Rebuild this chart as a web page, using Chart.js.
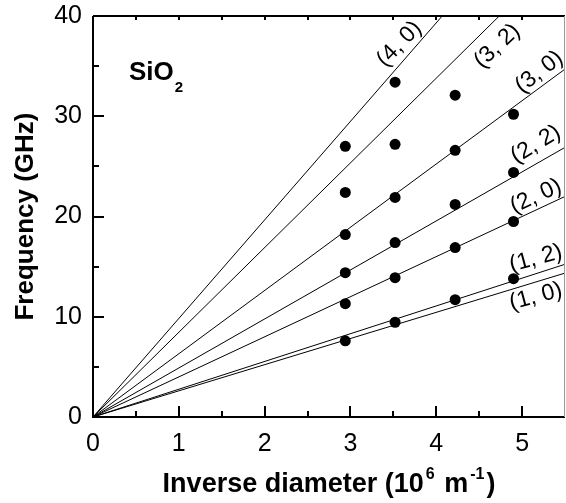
<!DOCTYPE html>
<html>
<head>
<meta charset="utf-8">
<title>SiO2 frequency vs inverse diameter</title>
<script src="https://cdn.jsdelivr.net/npm/chart.js"></script>
<style>
  html, body { margin: 0; padding: 0; background: #fff; }
  canvas { display: block; }
</style>
</head>
<body>
<canvas id="modesChart" width="566" height="503"></canvas>
<script>
// measured points, one array per sample (inverse diameter, 10^6 m^-1)
const inverseDiameters = [2.94, 3.52, 4.22, 4.90];
const freqsD1 = [7.6, 11.3, 14.4, 18.2, 22.4, 27.0];
const freqsD2 = [9.45, 13.9, 17.4, 21.9, 27.2, 33.4];
const freqsD3 = [11.7, 16.9, 21.2, 26.6, 32.1];
const freqsD4 = [13.8, 19.5, 24.4, 30.2];

// fitted lines through origin, slope in GHz per 10^6 m^-1
const modeNames = ['(1, 0)', '(1, 2)', '(2, 0)', '(2, 2)', '(3, 0)', '(3, 2)', '(4, 0)'];
const modeSlopes = [2.61, 2.77, 4.0, 4.89, 6.31, 8.45, 9.83];

const xTicks = [0, 1, 2, 3, 4, 5];
const yTicks = [0, 10, 20, 30, 40];

// where the mode labels sit (data units) and their tilt in degrees
const labelSpots = [
  { x: 5.16, y: 12.0, rot: 15 },
  { x: 5.16, y: 15.8, rot: 15 },
  { x: 5.16, y: 22.0, rot: 25 },
  { x: 5.16, y: 27.2, rot: 31 },
  { x: 5.20, y: 34.4, rot: 38 },
  { x: 4.71, y: 37.0, rot: 43 },
  { x: 3.57, y: 37.2, rot: 46 }
];

const X_MAX = 5.5;
const FONT = "'Liberation Sans', Arial, Helvetica, sans-serif";

const points = [];
[freqsD1, freqsD2, freqsD3, freqsD4].forEach((arr, i) => {
  arr.forEach(f => points.push({ x: inverseDiameters[i], y: f }));
});

const lineSets = modeSlopes.map((s, i) => ({
  type: 'line',
  label: modeNames[i],
  data: [{ x: 0, y: 0 }, { x: X_MAX, y: s * X_MAX }],
  borderColor: '#000',
  borderWidth: 1,
  pointRadius: 0,
  fill: false,
  order: 2
}));

const decorations = {
  id: 'decorations',
  afterDraw(chart) {
    const ctx = chart.ctx;
    const a = chart.chartArea;
    const xs = chart.scales.x, ys = chart.scales.y;
    ctx.save();
    ctx.strokeStyle = '#000';
    ctx.fillStyle = '#000';

    // frame
    ctx.lineWidth = 2;
    ctx.beginPath();
    ctx.moveTo(a.left, a.top); ctx.lineTo(a.right, a.top);
    ctx.moveTo(a.left, a.top); ctx.lineTo(a.left, a.bottom);
    ctx.moveTo(a.left - 1, a.bottom); ctx.lineTo(a.right, a.bottom);
    ctx.stroke();
    ctx.lineWidth = 1;
    ctx.strokeStyle = '#999';
    ctx.beginPath();
    ctx.moveTo(a.right - 0.5, a.top); ctx.lineTo(a.right - 0.5, a.bottom);
    ctx.stroke();

    // inward ticks
    ctx.strokeStyle = '#000';
    ctx.lineWidth = 2;
    ctx.beginPath();
    for (let v = 0.5; v < X_MAX; v += 0.5) {
      const px = Math.round(xs.getPixelForValue(v));
      const len = Number.isInteger(v) ? 11 : 6;
      ctx.moveTo(px, a.bottom); ctx.lineTo(px, a.bottom - len);
      ctx.moveTo(px, a.top); ctx.lineTo(px, a.top + 4);
    }
    for (let v = 5; v < 40; v += 5) {
      const py = Math.round(ys.getPixelForValue(v));
      const len = v % 10 === 0 ? 11 : 6;
      ctx.moveTo(a.left, py); ctx.lineTo(a.left + len, py);
    }
    ctx.stroke();

    // mode labels
    ctx.font = '23px ' + FONT;
    ctx.textAlign = 'center';
    ctx.textBaseline = 'middle';
    labelSpots.forEach((s, i) => {
      ctx.save();
      ctx.translate(xs.getPixelForValue(s.x), ys.getPixelForValue(s.y));
      ctx.rotate(-s.rot * Math.PI / 180);
      ctx.fillText(modeNames[i], 0, 0);
      ctx.restore();
    });

    // SiO2 tag
    ctx.textAlign = 'left';
    ctx.textBaseline = 'alphabetic';
    ctx.font = 'bold 26px ' + FONT;
    const tx = a.left + 36, ty = a.top + 64;
    ctx.fillText('SiO', tx, ty);
    const w = ctx.measureText('SiO').width;
    ctx.font = 'bold 15px ' + FONT;
    ctx.fillText('2', tx + w + 1, ty + 12);

    // y title
    ctx.font = 'bold 26px ' + FONT;
    ctx.save();
    ctx.translate(33, (a.top + a.bottom) / 2);
    ctx.rotate(-Math.PI / 2);
    ctx.textAlign = 'center';
    ctx.fillText('Frequency (GHz)', 0, 0);
    ctx.restore();

    // x title with superscripts
    const parts = [
      { t: 'Inverse diameter (10', big: true, gap: 2 },
      { t: '6', big: false, gap: 2 },
      { t: ' m', big: true, gap: 2 },
      { t: '-1', big: false, gap: 2 },
      { t: ')', big: true, gap: 0 }
    ];
    let total = 0;
    parts.forEach(p => {
      ctx.font = (p.big ? 'bold 27px ' : 'bold 16px ') + FONT;
      p.w = ctx.measureText(p.t).width;
      total += p.w + p.gap;
    });
    let cx = (a.left + a.right) / 2 - total / 2;
    const base = 492;
    parts.forEach(p => {
      ctx.font = (p.big ? 'bold 27px ' : 'bold 16px ') + FONT;
      ctx.fillText(p.t, cx, p.big ? base : base - 13);
      cx += p.w + p.gap;
    });
    ctx.restore();
  }
};

new Chart(document.getElementById('modesChart'), {
  type: 'scatter',
  data: {
    datasets: [
      {
        label: 'measured',
        data: points,
        backgroundColor: '#000',
        borderWidth: 0,
        pointRadius: 5.5,
        pointHoverRadius: 5.5,
        order: 1
      },
      ...lineSets
    ]
  },
  options: {
    responsive: false,
    animation: false,
    events: [],
    layout: { autoPadding: false, padding: { top: 16, right: 1, left: 0, bottom: 0 } },
    plugins: { legend: { display: false }, tooltip: { enabled: false } },
    scales: {
      x: {
        type: 'linear',
        min: 0,
        max: X_MAX,
        grid: { display: false, drawTicks: false },
        border: { display: false },
        afterFit: s => { s.height = 86; s.paddingLeft = 0; s.paddingRight = 0; },
        afterBuildTicks: s => { s.ticks = xTicks.map(v => ({ value: v })); },
        ticks: { color: '#000', padding: 12, maxRotation: 0, font: { family: FONT, size: 25 } }
      },
      y: {
        type: 'linear',
        min: 0,
        max: 40,
        grid: { display: false, drawTicks: false },
        border: { display: false },
        afterFit: s => { s.width = 93; s.paddingTop = 0; s.paddingBottom = 0; },
        afterBuildTicks: s => { s.ticks = yTicks.map(v => ({ value: v })); },
        ticks: { color: '#000', padding: 11, font: { family: FONT, size: 25 } }
      }
    }
  },
  plugins: [decorations]
});
</script>
</body>
</html>
